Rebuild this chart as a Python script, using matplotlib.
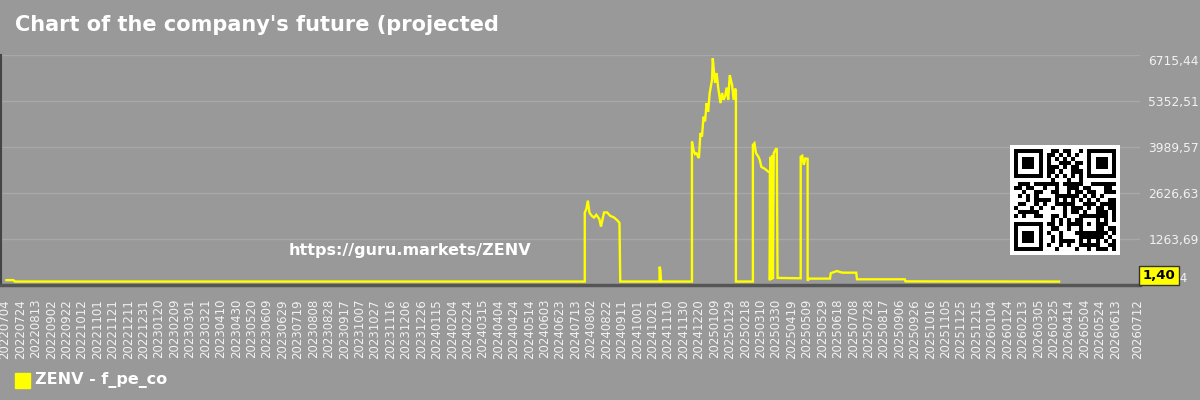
import hashlib

import matplotlib
matplotlib.use('Agg')
import matplotlib.pyplot as plt
import numpy as np
import pandas as pd

# Series (ZENV - f_pe_co)
dates = ['2022-07-06', '2022-07-15', '2022-07-17', '2024-07-25', '2024-07-25', '2024-07-27',
         '2024-07-29', '2024-07-31', '2024-08-03', '2024-08-06', '2024-08-09', '2024-08-13',
         '2024-08-15', '2024-08-19', '2024-08-23', '2024-08-27', '2024-09-01', '2024-09-05',
         '2024-09-08', '2024-09-09', '2024-10-30', '2024-10-30', '2024-10-31', '2024-11-01',
         '2024-12-11', '2024-12-11', '2024-12-13', '2024-12-15', '2024-12-17', '2024-12-19',
         '2024-12-20', '2024-12-22', '2024-12-24', '2024-12-26', '2024-12-28', '2024-12-30',
         '2025-01-01', '2025-01-03', '2025-01-06', '2025-01-07', '2025-01-09', '2025-01-10',
         '2025-01-12', '2025-01-14', '2025-01-17', '2025-01-19', '2025-01-21', '2025-01-23',
         '2025-01-25', '2025-01-27', '2025-01-29', '2025-02-01', '2025-02-03', '2025-02-05',
         '2025-02-06', '2025-02-06', '2025-02-28', '2025-02-28', '2025-03-02', '2025-03-04',
         '2025-03-07', '2025-03-09', '2025-03-11', '2025-03-15', '2025-03-20', '2025-03-22',
         '2025-03-22', '2025-03-23', '2025-03-24', '2025-03-25', '2025-03-26', '2025-03-27',
         '2025-03-29', '2025-03-31', '2025-04-01', '2025-05-01', '2025-05-01', '2025-05-03',
         '2025-05-05', '2025-05-07', '2025-05-10', '2025-05-10', '2025-05-12', '2025-06-08',
         '2025-06-09', '2025-06-17', '2025-06-22', '2025-06-25', '2025-07-12', '2025-07-13',
         '2025-09-13', '2025-09-14', '2026-04-01']
values = [45, 45, 3, 3, 2050, 2150,
          2400, 2050, 1950, 1900, 1980, 1850,
          1630, 2050, 2050, 1950, 1900, 1820,
          1740, 3, 3, 443, 350, 3,
          3, 4150, 3900, 3780, 3800, 3700,
          3664, 4403, 4300, 4888, 4750, 5290,
          5036, 5590, 5975, 6620, 6100, 5900,
          6180, 5750, 5290, 5590, 5390, 5500,
          5750, 5390, 6120, 5830, 5390, 5720,
          5650, 3, 3, 4050, 4100, 3810,
          3710, 3600, 3400, 3350, 3260, 3260,
          40, 3700, 60, 3750, 80, 3800,
          3900, 3950, 110, 100, 3700, 3730,
          3460, 3650, 3640, 30, 90, 90,
          250, 315, 277, 266, 266, 70,
          70, 8, 1.40]

y_min, y_max = -99.24, 6715.44
ytick_labels = ['-99,24', '1263,69', '2626,63', '3989,57', '5352,51', '6715,44']
tick_dates = list(pd.date_range('2022-07-04', '2026-06-13', freq='20D')) + [pd.Timestamp('2026-07-12')]
title = "Chart of the company's future (projected"
legend_label = 'ZENV - f_pe_co'
url = 'https://guru.markets/ZENV'

bg = '#999999'
fg = '#f2f2f2'
line_color = '#ffff00'

fig = plt.figure(figsize=(12, 4), dpi=100, facecolor=bg)
ax = fig.add_axes([1 / 1200, 1 - 285 / 400, 1139 / 1200, 230 / 400])
ax.set_facecolor(bg)

x = pd.to_datetime(dates)
ax.plot(x, values, color=line_color, lw=1.7, solid_joinstyle='miter')

ax.set_xlim(pd.Timestamp('2022-06-29'), pd.Timestamp('2026-07-15'))
ax.set_ylim(y_min, y_max)

ax.set_yticks(np.linspace(y_min, y_max, len(ytick_labels)))
ax.set_yticklabels(ytick_labels)
ax.yaxis.tick_right()
ax.tick_params(axis='y', length=0, pad=6, labelcolor=fg, labelsize=8.8)
ticks = ax.yaxis.get_major_ticks()
ticks[0].label2.set_va('bottom')
ticks[-1].label2.set_va('top')

ax.set_xticks(tick_dates)
ax.set_xticklabels([d.strftime('%Y%m%d') for d in tick_dates], rotation=90)
ax.tick_params(axis='x', length=0, pad=10, labelcolor=fg, labelsize=8.5)

ax.grid(axis='y', color='#a8a8a8', lw=1)
ax.set_axisbelow(True)
for side in ['top', 'right']:
    ax.spines[side].set_visible(False)
ax.spines['left'].set_color('#444444')
ax.spines['left'].set_linewidth(1.5)
ax.spines['bottom'].set_color('#555555')
ax.spines['bottom'].set_linewidth(2.5)

# title, watermark url, legend
fig.text(15 / 1200, 1 - 25 / 400, title, color='white', fontsize=15, fontweight='bold', va='center')
fig.text(410 / 1200, 1 - 250 / 400, url, color='white', fontsize=11.5, fontweight='bold',
         ha='center', va='center')
fig.patches.append(plt.Rectangle((15 / 1200, 1 - 388 / 400), 15 / 1200, 15 / 400,
                                 transform=fig.transFigure, color=line_color))
fig.text(35 / 1200, 1 - 380 / 400, legend_label, color='white', fontsize=11.5,
         fontweight='bold', va='center')

# last value badge
fig.text(1159 / 1200, 1 - 275.5 / 400, f'{values[-1]:.2f}'.replace('.', ','), color='black',
         fontsize=9.5, fontweight='bold', ha='center', va='center',
         bbox=dict(boxstyle='square,pad=0.25', fc=line_color, ec='#333333', lw=1))

# QR-like badge
n = 25
bits = ''.join(f'{b:08b}' for b in hashlib.sha256(url.encode()).digest() * 3)
qr = np.array([int(c) for c in bits[:n * n]]).reshape(n, n)
qr[6, :] = (np.arange(n) + 1) % 2
qr[:, 6] = (np.arange(n) + 1) % 2
for r, c in [(0, 0), (0, n - 7), (n - 7, 0)]:
    qr[max(r - 1, 0):r + 8, max(c - 1, 0):c + 8] = 0
    qr[r:r + 7, c:c + 7] = 1
    qr[r + 1:r + 6, c + 1:c + 6] = 0
    qr[r + 2:r + 5, c + 2:c + 5] = 1
qr[16:21, 16:21] = 1
qr[17:20, 17:20] = 0
qr[18, 18] = 1
qr = np.pad(qr, 1)
qax = fig.add_axes([1010 / 1200, 1 - 255 / 400, 110 / 1200, 110 / 400])
qax.imshow(qr, cmap='gray_r', interpolation='nearest', aspect='auto')
qax.axis('off')

fig.savefig('out.png', dpi=100, facecolor=bg)
